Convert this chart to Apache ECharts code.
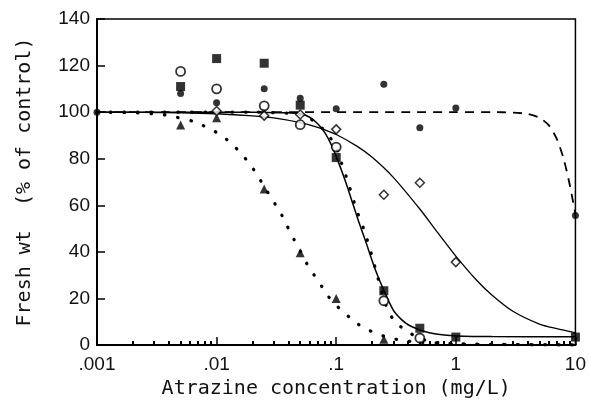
<!DOCTYPE html>
<html>
<head>
<meta charset="utf-8">
<script src="https://cdn.jsdelivr.net/npm/echarts@6/dist/echarts.min.js"></script>
<style>
  html, body { margin: 0; padding: 0; background: #fff; }
  #chart { width: 589px; height: 404px; }
</style>
</head>
<body>
<div id="chart"></div>
<script>
// ---------- Data ----------
const xTickLabels = ['.001', '.01', '.1', '1', '10'];
const xMinorTicks = [
  0.002, 0.003, 0.004, 0.005, 0.006, 0.007, 0.008, 0.009,
  0.02, 0.03, 0.04, 0.05, 0.06, 0.07, 0.08, 0.09,
  0.2, 0.3, 0.4, 0.5, 0.6, 0.7, 0.8, 0.9,
  2, 3, 4, 5, 6, 7, 8, 9
];

// observed points [concentration mg/L, fresh wt % of control]
const filledCircles = [[0.001, 100], [0.005, 108], [0.01, 104], [0.025, 110], [0.05, 106], [0.1, 101.5], [0.25, 112], [0.5, 93.3], [1, 101.8], [10, 55.6]];
const openCircles = [[0.005, 117.5], [0.01, 110], [0.025, 102.7], [0.05, 94.6], [0.1, 85], [0.25, 19], [0.5, 3]];
const filledSquares = [[0.005, 111], [0.01, 123], [0.025, 121], [0.05, 103], [0.1, 80.5], [0.25, 23.3], [0.5, 7.2], [1, 3.4], [10, 3.4]];
const filledTriangles = [[0.005, 94.5], [0.01, 97.6], [0.025, 67], [0.05, 39.6], [0.1, 20], [0.25, 2.5]];
const openDiamonds = [[0.01, 100.5], [0.025, 98.5], [0.05, 99], [0.1, 92.6], [0.25, 64.5], [0.5, 69.7], [1, 35.6]];

// fitted curves
const dashedCurve = [[0.001, 100], [1, 100], [2, 100], [3, 99.8], [4, 99.2], [5, 97.6], [6, 94.3], [7, 88.4], [8, 79.6], [9, 68.4], [10, 56]];
const shallowCurve = [[0.001, 100], [0.005, 99.7], [0.01, 99.3], [0.02, 98.4], [0.03, 97.5], [0.05, 95.5], [0.07, 93.5], [0.1, 90.4], [0.15, 85.3], [0.2, 80.6], [0.3, 72], [0.5, 58.4], [0.7, 48.5], [1, 38.2], [1.5, 27.7], [2, 21.5], [3, 14.5], [5, 9], [7, 7], [10, 5.2]];
const steepSolidCurve = [[0.001, 100], [0.02, 100], [0.04, 99.7], [0.05, 99.4], [0.06, 97.8], [0.07, 95], [0.08, 91.3], [0.09, 86.5], [0.1, 81], [0.12, 70], [0.132, 63.6], [0.154, 53], [0.175, 45], [0.21, 33], [0.25, 23.5], [0.3, 15], [0.35, 11], [0.4, 8.7], [0.5, 6.5], [0.6, 5.3], [0.8, 4.3], [1, 3.9], [2, 3.6], [10, 3.5]];
const steepDottedCurve = [[0.001, 100], [0.02, 100], [0.04, 99.5], [0.05, 99], [0.059, 97.6], [0.0757, 93.3], [0.09, 88.7], [0.1, 85], [0.111, 78], [0.124, 70.8], [0.148, 58], [0.172, 49], [0.197, 39], [0.22, 30], [0.25, 20], [0.27, 15], [0.31, 10], [0.4, 5.5], [0.5, 3], [0.6, 1.5], [0.8, 0.6], [1, 0.3], [10, 0]];
const triangleDottedCurve = [[0.001, 100], [0.002, 99.8], [0.003, 99.3], [0.004, 98.5], [0.0066, 95.8], [0.0084, 93.3], [0.0107, 90.4], [0.0133, 86.5], [0.016, 82.3], [0.019, 77.6], [0.0222, 72.5], [0.025, 68], [0.0296, 62], [0.0344, 56.6], [0.0387, 51.3], [0.0443, 45.4], [0.05, 40.5], [0.0567, 35], [0.066, 29.7], [0.077, 24.6], [0.09, 19.5], [0.109, 15.2], [0.132, 11.5], [0.166, 7.6], [0.216, 5], [0.272, 3.2], [0.355, 2], [0.5, 1.2], [1, 0.6], [2, 0.3], [10, 0]];

const xName = 'Atrazine concentration (mg/L)';
const yName = 'Fresh wt  (% of control)';

// ---------- Chart ----------
const chart = echarts.init(document.getElementById('chart'), null, { renderer: 'canvas' });
const black = '#000';
const monoFont = 'DejaVu Sans Mono';
const numFont = 'Liberation Sans';

function lineSeries(data, style) {
  return {
    type: 'line', data: data, symbol: 'none', showSymbol: false, smooth: 0.25,
    silent: true, z: 2, clip: true,
    lineStyle: Object.assign({ color: black }, style)
  };
}
function scatterSeries(data, symbol, size, filled, bw) {
  return {
    type: 'scatter', data: data, symbol: symbol, symbolSize: size, z: 5, clip: false, silent: true,
    itemStyle: filled ? { color: black } : { color: '#fff', borderColor: black, borderWidth: bw }
  };
}

const option = {
  animation: false,
  backgroundColor: '#fff',
  grid: { left: 97, right: 11, top: 19, bottom: 54, show: true, borderColor: black, borderWidth: 1.5, backgroundColor: 'transparent' },
  xAxis: [
    {
      type: 'log', logBase: 10, min: 0.001, max: 10, position: 'bottom',
      axisLine: { show: true, lineStyle: { color: black, width: 2 } },
      axisTick: { show: true, inside: true, length: 8, lineStyle: { color: black, width: 1.5 } },
      axisLabel: {
        fontSize: 19, fontFamily: numFont, color: '#111', margin: 10,
        formatter: function (v) { return xTickLabels[Math.round(Math.log10(v)) + 3] || ''; }
      },
      splitLine: { show: false },
      name: xName, nameLocation: 'middle', nameGap: 34,
      nameTextStyle: { fontFamily: monoFont, fontSize: 20, color: '#111' }
    },
    {
      type: 'log', logBase: 10, min: 0.001, max: 10, position: 'bottom', gridIndex: 0,
      axisLine: { show: false },
      axisTick: { show: true, inside: true, length: 4, customValues: xMinorTicks, lineStyle: { color: black, width: 2 } },
      axisLabel: { show: false },
      splitLine: { show: false }
    }
  ],
  yAxis: {
    type: 'value', min: 0, max: 140, interval: 20,
    axisLine: { show: true, lineStyle: { color: black, width: 2 } },
    axisTick: { show: true, inside: true, length: 8, lineStyle: { color: black, width: 1.5 } },
    axisLabel: { fontSize: 19, fontFamily: numFont, color: '#111', margin: 7 },
    splitLine: { show: false },
    name: yName, nameLocation: 'middle', nameGap: 62,
    nameTextStyle: { fontFamily: monoFont, fontSize: 20, color: '#111' }
  },
  series: [
    lineSeries(dashedCurve, { width: 1.8, type: [9, 7] }),
    lineSeries(shallowCurve, { width: 1.3 }),
    lineSeries(steepSolidCurve, { width: 1.5 }),
    lineSeries(steepDottedCurve, { width: 3.2, type: [0.5, 13], cap: 'round' }),
    lineSeries(triangleDottedCurve, { width: 3.2, type: [0.5, 13], cap: 'round' }),
    scatterSeries(filledCircles, 'circle', 7, true),
    scatterSeries(openCircles, 'circle', 9, false, 1.8),
    scatterSeries(filledSquares, 'rect', 9, true),
    scatterSeries(filledTriangles, 'triangle', 9, true),
    scatterSeries(openDiamonds, 'diamond', 9, false, 1.5)
  ]
};
chart.setOption(option);
</script>
</body>
</html>
